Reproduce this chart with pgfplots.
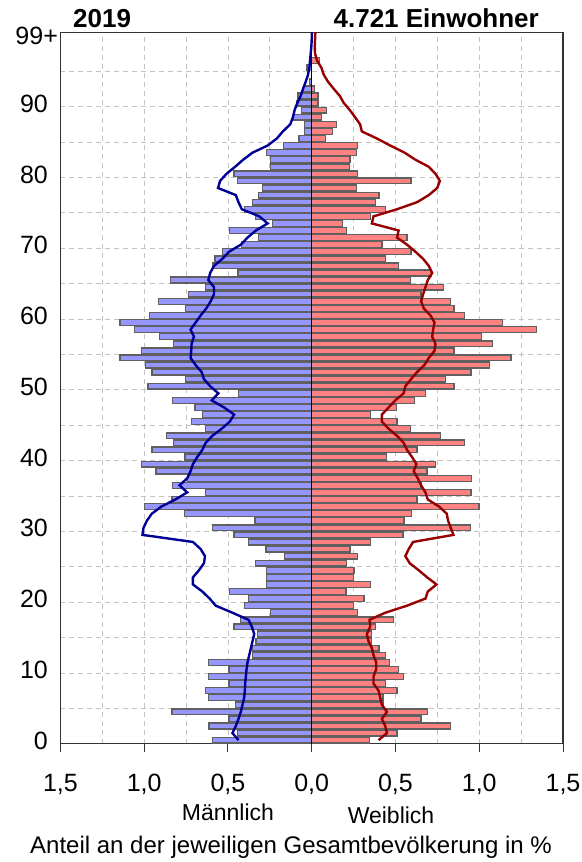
\documentclass[border=0pt]{standalone}
\usepackage{pgfplots}
\usepackage{pgfplotstable}
\pgfplotsset{compat=1.18}
\usepackage{fontspec}
\setmainfont{Liberation Sans}

\definecolor{mbar}{RGB}{150,150,255}
\definecolor{fbar}{RGB}{255,130,130}
\definecolor{barline}{RGB}{96,96,96}
\definecolor{mline}{RGB}{0,0,150}
\definecolor{fline}{RGB}{150,0,0}
\definecolor{gridc}{RGB}{195,195,195}

% share of population per age, in %: m = male, f = female
\pgfplotstableread{
age m f
0 0.593 0.343
1 0.443 0.509
2 0.613 0.830
3 0.493 0.653
4 0.834 0.693
5 0.453 0.429
6 0.617 0.425
7 0.633 0.509
8 0.493 0.439
9 0.617 0.549
10 0.493 0.519
11 0.617 0.465
12 0.353 0.439
13 0.353 0.401
14 0.333 0.359
15 0.323 0.359
16 0.463 0.379
17 0.423 0.489
18 0.248 0.273
19 0.403 0.249
20 0.377 0.313
21 0.489 0.204
22 0.269 0.353
23 0.269 0.249
24 0.269 0.253
25 0.337 0.206
26 0.162 0.273
27 0.273 0.228
28 0.379 0.353
29 0.463 0.545
30 0.593 0.948
31 0.339 0.551
32 0.759 0.595
33 1.000 0.998
34 0.834 0.629
35 0.633 0.950
36 0.830 0.653
37 0.743 0.952
38 0.930 0.689
39 1.016 0.741
40 0.756 0.445
41 0.954 0.629
42 0.824 0.910
43 0.868 0.768
44 0.633 0.589
45 0.717 0.509
46 0.653 0.353
47 0.697 0.505
48 0.830 0.613
49 0.437 0.679
50 0.977 0.850
51 0.753 0.800
52 0.954 0.950
53 0.994 1.060
54 1.144 1.190
55 1.014 0.850
56 0.824 1.080
57 0.910 1.014
58 1.058 1.341
59 1.144 1.140
60 0.970 0.910
61 0.753 0.850
62 0.914 0.830
63 0.737 0.653
64 0.633 0.786
65 0.844 0.589
66 0.440 0.714
67 0.593 0.519
68 0.577 0.439
69 0.533 0.593
70 0.417 0.419
71 0.317 0.569
72 0.489 0.208
73 0.232 0.182
74 0.337 0.349
75 0.403 0.439
76 0.353 0.379
77 0.317 0.401
78 0.293 0.269
79 0.443 0.593
80 0.463 0.273
81 0.248 0.224
82 0.248 0.228
83 0.269 0.269
84 0.168 0.273
85 0.076 0.084
86 0.042 0.124
87 0.042 0.148
88 0.108 0.058
89 0.062 0.088
90 0.092 0.038
91 0.082 0.038
92 0.048 0.018
93 0.012 nan
95 0.028 nan
96 nan 0.045
}\pyramid

% comparison profile (lines)
\pgfplotstableread{
age m f
0 0.437 0.399
1 0.473 0.449
2 0.453 0.439
3 0.437 0.419
4 0.423 0.449
5 0.413 0.419
6 0.403 0.409
7 0.399 0.399
8 0.397 0.369
9 0.393 0.369
10 0.389 0.385
11 0.383 0.385
12 0.373 0.369
13 0.363 0.359
14 0.353 0.339
15 0.343 0.329
16 0.357 0.349
17 0.377 0.345
18 0.473 0.439
19 0.573 0.569
20 0.609 0.679
21 0.653 0.693
22 0.709 0.745
23 0.709 0.689
24 0.673 0.639
25 0.643 0.585
26 0.637 0.559
27 0.663 0.579
28 0.709 0.605
29 1.010 0.846
30 1.004 0.830
31 0.984 0.814
32 0.954 0.806
33 0.897 0.760
34 0.814 0.693
35 0.743 0.679
36 0.789 0.653
37 0.743 0.633
38 0.723 0.609
39 0.709 0.625
40 0.683 0.599
41 0.653 0.569
42 0.633 0.549
43 0.593 0.509
44 0.537 0.459
45 0.489 0.419
46 0.463 0.419
47 0.523 0.459
48 0.597 0.499
49 0.557 0.549
50 0.606 0.559
51 0.643 0.593
52 0.657 0.629
53 0.693 0.673
54 0.723 0.699
55 0.719 0.733
56 0.717 0.739
57 0.703 0.719
58 0.723 0.725
59 0.693 0.733
60 0.663 0.709
61 0.629 0.669
62 0.603 0.653
63 0.583 0.665
64 0.583 0.679
65 0.617 0.693
66 0.606 0.719
67 0.583 0.699
68 0.533 0.665
69 0.493 0.619
70 0.423 0.569
71 0.383 0.509
72 0.333 0.519
73 0.263 0.359
74 0.313 0.369
75 0.417 0.509
76 0.437 0.629
77 0.453 0.699
78 0.559 0.749
79 0.547 0.765
80 0.509 0.739
81 0.457 0.699
82 0.409 0.619
83 0.353 0.554
84 0.263 0.469
85 0.208 0.389
86 0.172 0.299
87 0.128 0.289
88 0.112 0.259
89 0.102 0.228
90 0.086 0.192
91 0.066 0.168
92 0.052 0.132
93 0.036 0.098
94 0.022 0.072
95 0.014 0.058
96 0.010 0.032
97 0.006 0.020
98 0.002 0.018
99 0.000 0.020
100 0.000 0.022
}\reference

\begin{document}
\begin{tikzpicture}
\path[use as bounding box] (-60.4pt,-118.3pt) rectangle (520.6pt,743.7pt);
\begin{axis}[
    at={(0,0)}, anchor=south west,
    scale only axis,
    width=502.6pt, height=711.4pt,
    xmin=-1.5, xmax=1.5,
    ymin=0, ymax=100.5,
    xtick={-1.5,-1,-0.5,0,0.5,1,1.5},
    xticklabels={{1,5},{1,0},{0,5},{0,0},{0,5},{1,0},{1,5}},
    minor xtick={-1.25,-0.75,-0.25,0.25,0.75,1.25},
    ytick={0,10,...,90},
    yticklabels={0,10,20,30,40,50,60,70,80,90},
    minor ytick={5,15,...,95},
    extra y ticks={99.5},
    extra y tick labels={99+},
    extra y tick style={grid=none, yticklabel style={xshift=10pt}},
    grid=both,
    major grid style={gridc, dash pattern=on 5pt off 4pt, line width=0.8pt},
    minor grid style={gridc, dash pattern=on 5pt off 4pt, line width=0.8pt},
    tick pos=left,
    xtick align=outside,
    major tick length=8pt,
    minor tick length=0pt,
    ytick style={draw=none},
    xtick style={black!80, line width=1pt},
    axis line style={black!80, line width=1.2pt},
    tick label style={font=\fontsize{25}{28}\selectfont},
    xticklabel style={anchor=base, yshift=-40pt},
    yticklabel style={xshift=-9pt, yshift=3pt},
    clip mode=individual,
]
\addplot [xbar, bar shift=0pt, bar width=0.82, fill=mbar, draw=barline, line width=1.3pt]
    table [x expr=-\thisrow{m}, y expr=\thisrow{age}+0.5] {\pyramid};
\addplot [xbar, bar shift=0pt, bar width=0.82, fill=fbar, draw=barline, line width=1.3pt]
    table [x=f, y expr=\thisrow{age}+0.5] {\pyramid};
\addplot [black, line width=0.8pt] coordinates {(0,0) (0,100.5)};
\addplot [mline, line width=2.4pt, no marks, sharp plot]
    table [x expr=-\thisrow{m}, y expr=\thisrow{age}+0.5] {\reference};
\addplot [fline, line width=2.4pt, no marks, sharp plot]
    table [x=f, y expr=\thisrow{age}+0.5] {\reference};

\node [font=\fontsize{26}{30}\selectfont\bfseries, anchor=base west, inner sep=0pt]
    at (rel axis cs:0,1) [xshift=12.6pt, yshift=4.3pt] {2019};
\node [font=\fontsize{26}{30}\selectfont\bfseries, anchor=base east, inner sep=0pt]
    at (rel axis cs:0,1) [xshift=478.6pt, yshift=4.3pt] {4.721 Einwohner};
\node [font=\fontsize{23}{26}\selectfont, anchor=base west, inner sep=0pt]
    at (rel axis cs:0,0) [xshift=121.3pt, yshift=-76.3pt] {Männlich};
\node [font=\fontsize{23}{26}\selectfont, anchor=base west, inner sep=0pt]
    at (rel axis cs:0,0) [xshift=287.2pt, yshift=-80pt] {Weiblich};
\node [font=\fontsize{24}{27}\selectfont, anchor=base west, inner sep=0pt]
    at (rel axis cs:0,0) [xshift=-30.4pt, yshift=-109.3pt]
    {Anteil an der jeweiligen Gesamtbevölkerung in \%};
\end{axis}
\end{tikzpicture}
\end{document}
